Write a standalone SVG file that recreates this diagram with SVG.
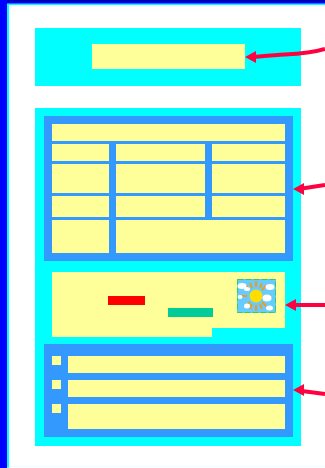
<svg xmlns="http://www.w3.org/2000/svg" width="325" height="468" viewBox="0 0 325 468">
<style>
.c{fill:#00ffff}.b{fill:#3399ff}.y{fill:#ffff99}
.a{fill:none;stroke:#ff0040;stroke-width:4}
.h{fill:#ff0040}
.cl{fill:#ffffff}.r{stroke:#f59a14;stroke-width:2;fill:none}
</style>
<rect width="325" height="468" fill="#ffffff"/>
<rect id="page-edge" x="8" y="4" width="330" height="462.500" fill="none" stroke="#00ffff" stroke-width="2"/>
<rect x="9" y="466" width="316" height="1" fill="#e6ffff"/>
<rect x="9" y="465" width="316" height="3" fill="#ffffff"/>
<rect x="9" y="466" width="316" height="1" fill="#ecffff"/>
<path id="page-border" d="M0 0H325V3.500H7V468H0Z" fill="#0000ff"/>
<rect x="7" y="0" width="318" height="2" fill="#0000bb"/>
<g id="header"><rect class="c" x="35" y="28" width="266" height="58"/><rect class="y" x="92" y="44" width="153" height="25"/></g>
<g id="body-box"><rect class="c" x="35" y="108" width="266" height="338"/></g>
<g id="table"><rect class="b" x="44" y="116" width="249" height="145"/>
<rect class="y" x="52" y="124" width="233" height="17"/>
<rect class="y" x="52" y="144" width="57" height="17"/><rect class="y" x="116" y="144" width="89" height="17"/><rect class="y" x="212" y="144" width="73" height="17"/>
<rect class="y" x="52" y="164" width="57" height="29"/><rect class="y" x="116" y="164" width="89" height="29"/><rect class="y" x="212" y="164" width="73" height="29"/>
<rect class="y" x="52" y="196" width="57" height="21"/><rect class="y" x="116" y="196" width="89" height="21"/><rect class="y" x="212" y="196" width="73" height="21"/>
<rect class="y" x="52" y="220" width="57" height="33"/><rect class="y" x="116" y="220" width="169" height="33"/></g>
<g id="content"><path class="y" d="M52 272H285V328H212V337H52Z"/><rect x="108" y="296" width="37" height="9" fill="#ff0000"/><rect x="168" y="308" width="45" height="9" fill="#00cc99"/></g>
<g id="sun-image"><rect x="237" y="279" width="39" height="34" fill="#66ccff"/>
<rect x="237.500" y="279.500" width="38" height="33" fill="none" stroke="#33cc66" stroke-dasharray="6 2"/>
<path class="r" d="M256 281V287M256 305V311M241 296H247M265 296H271M246 286L250 290M262 302L266 306M266 286L262 290M250 302L246 306M250 283L252 288M262 283L260 288M250 309L252 304M262 309L260 304" stroke-width="2"/>
<circle cx="256" cy="296" r="6.500" fill="#ffdd00"/>
<g class="cl"><ellipse cx="242" cy="286" rx="4.500" ry="3"/><ellipse cx="247" cy="289" rx="3" ry="2"/><ellipse cx="270" cy="287" rx="4.500" ry="3"/><ellipse cx="267" cy="298" rx="4.500" ry="3.500"/><ellipse cx="269.500" cy="308" rx="3.500" ry="2.500"/><ellipse cx="247" cy="306" rx="3" ry="2.500"/><ellipse cx="240" cy="297" rx="2.500" ry="2"/></g></g>
<g id="list"><rect class="b" x="44" y="344" width="249" height="93"/>
<rect class="y" x="52" y="356" width="9" height="9"/><rect class="y" x="68" y="356" width="217" height="17"/>
<rect class="y" x="52" y="380" width="9" height="9"/><rect class="y" x="68" y="380" width="217" height="17"/>
<rect class="y" x="52" y="404" width="9" height="9"/><rect class="y" x="68" y="404" width="217" height="25"/></g>
<g id="connectors">
<path class="a" d="M325 49C312 53 298 54 285 54.500C275 55 265 56 254 57"/><polygon class="h" points="245,57 256,51 256,63"/>
<path class="a" d="M325 185L302 188.500"/><polygon class="h" points="293,189 304,183 304,195"/>
<path class="a" d="M325 305H295"/><polygon class="h" points="285,305 296,299 296,311"/>
<path class="a" d="M325 394L302 391"/><polygon class="h" points="293,390 304,384 304,396"/>
</g>
</svg>
